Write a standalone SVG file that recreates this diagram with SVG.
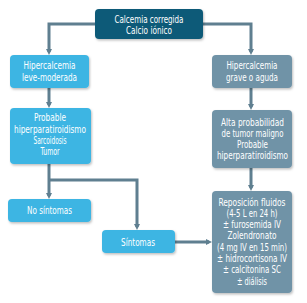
<svg xmlns="http://www.w3.org/2000/svg" width="307" height="303" viewBox="0 0 307 303">
<defs>
<filter id="sh" x="-10%" y="-10%" width="130%" height="130%">
<feDropShadow dx="1" dy="1.5" stdDeviation="1" flood-color="#000" flood-opacity="0.25"/>
</filter>
<marker id="ah" markerWidth="6" markerHeight="6" refX="3" refY="3" orient="auto" markerUnits="userSpaceOnUse">
<path d="M0,0 L6,3 L0,6 Z" fill="#5f7f90"/>
</marker>
</defs>
<style>
text{font-family:"DejaVu Sans Condensed","Liberation Sans",sans-serif;font-size:10px;fill:#fff;text-anchor:middle}
.dark{fill:#0d5a78}
.light{fill:#3db5e3}
.grey{fill:#6f93a7}
.c{fill:none;stroke:#5f7f90;stroke-width:3}
</style>
<rect width="307" height="303" fill="#fff"/>
<g id="connectors">
<path class="c" d="M95,24 H49 V52" marker-end="url(#ah)"/>
<path class="c" d="M203,24 H251 V52" marker-end="url(#ah)"/>
<path class="c" d="M49,88 V105" marker-end="url(#ah)"/>
<path class="c" d="M251,88 V107" marker-end="url(#ah)"/>
<path class="c" d="M49,164 V196" marker-end="url(#ah)"/>
<path class="c" d="M49,180 H137 V227" marker-end="url(#ah)"/>
<path class="c" d="M251,168 V188" marker-end="url(#ah)"/>
<path class="c" d="M175,242 H209" marker-end="url(#ah)"/>
</g>
<g id="n-top">
<rect class="dark" x="95" y="9" width="108" height="30" rx="4" filter="url(#sh)"/>
<text x="149" y="23" textLength="69" lengthAdjust="spacingAndGlyphs">Calcemia corregida</text>
<text x="149" y="34" textLength="46" lengthAdjust="spacingAndGlyphs">Calcio iónico</text>
</g>
<g id="n-leve">
<rect class="light" x="10" y="55" width="79" height="33" rx="4" filter="url(#sh)"/>
<text x="49.5" y="69" textLength="52" lengthAdjust="spacingAndGlyphs">Hipercalcemia</text>
<text x="49.5" y="81" textLength="55" lengthAdjust="spacingAndGlyphs">leve-moderada</text>
</g>
<g id="n-grave">
<rect class="grey" x="212" y="55" width="80" height="33" rx="4" filter="url(#sh)"/>
<text x="252" y="69" textLength="51" lengthAdjust="spacingAndGlyphs">Hipercalcemia</text>
<text x="252" y="81" textLength="52" lengthAdjust="spacingAndGlyphs">grave o aguda</text>
</g>
<g id="n-probable">
<rect class="light" x="10" y="108" width="81" height="56" rx="4" filter="url(#sh)"/>
<text x="50" y="121" textLength="32" lengthAdjust="spacingAndGlyphs">Probable</text>
<text x="50" y="133" textLength="72" lengthAdjust="spacingAndGlyphs">hiperparatiroidismo</text>
<text x="50" y="144" textLength="33" lengthAdjust="spacingAndGlyphs">Sarcoidosis</text>
<text x="50" y="155" textLength="19" lengthAdjust="spacingAndGlyphs">Tumor</text>
</g>
<g id="n-alta">
<rect class="grey" x="212" y="110" width="80" height="58" rx="4" filter="url(#sh)"/>
<text x="252.5" y="126" textLength="63" lengthAdjust="spacingAndGlyphs">Alta probabilidad</text>
<text x="252.5" y="137" textLength="62" lengthAdjust="spacingAndGlyphs">de tumor maligno</text>
<text x="252.5" y="148" textLength="31" lengthAdjust="spacingAndGlyphs">Probable</text>
<text x="252.5" y="159" textLength="71" lengthAdjust="spacingAndGlyphs">hiperparatiroidismo</text>
</g>
<g id="n-nosintomas">
<rect class="light" x="8" y="199" width="83" height="23" rx="4" filter="url(#sh)"/>
<text x="49.5" y="214" textLength="45" lengthAdjust="spacingAndGlyphs">No síntomas</text>
</g>
<g id="n-sintomas">
<rect class="light" x="102" y="230" width="73" height="23" rx="4" filter="url(#sh)"/>
<text x="138" y="246" textLength="34" lengthAdjust="spacingAndGlyphs">Síntomas</text>
</g>
<g id="n-reposicion">
<rect class="grey" x="212" y="191" width="80" height="102" rx="4" filter="url(#sh)"/>
<text x="252" y="206" textLength="67" lengthAdjust="spacingAndGlyphs">Reposición fluidos</text>
<text x="252" y="217" textLength="51" lengthAdjust="spacingAndGlyphs">(4-5 L en 24 h)</text>
<text x="252" y="228" textLength="58" lengthAdjust="spacingAndGlyphs">± furosemida IV</text>
<text x="252" y="239" textLength="49" lengthAdjust="spacingAndGlyphs">Zolendronato</text>
<text x="252" y="251" textLength="70" lengthAdjust="spacingAndGlyphs">(4 mg IV en 15 min)</text>
<text x="252" y="262" textLength="70" lengthAdjust="spacingAndGlyphs">± hidrocortisona IV</text>
<text x="252" y="273" textLength="58" lengthAdjust="spacingAndGlyphs">± calcitonina SC</text>
<text x="252" y="285" textLength="30" lengthAdjust="spacingAndGlyphs">± diálisis</text>
</g>
</svg>
